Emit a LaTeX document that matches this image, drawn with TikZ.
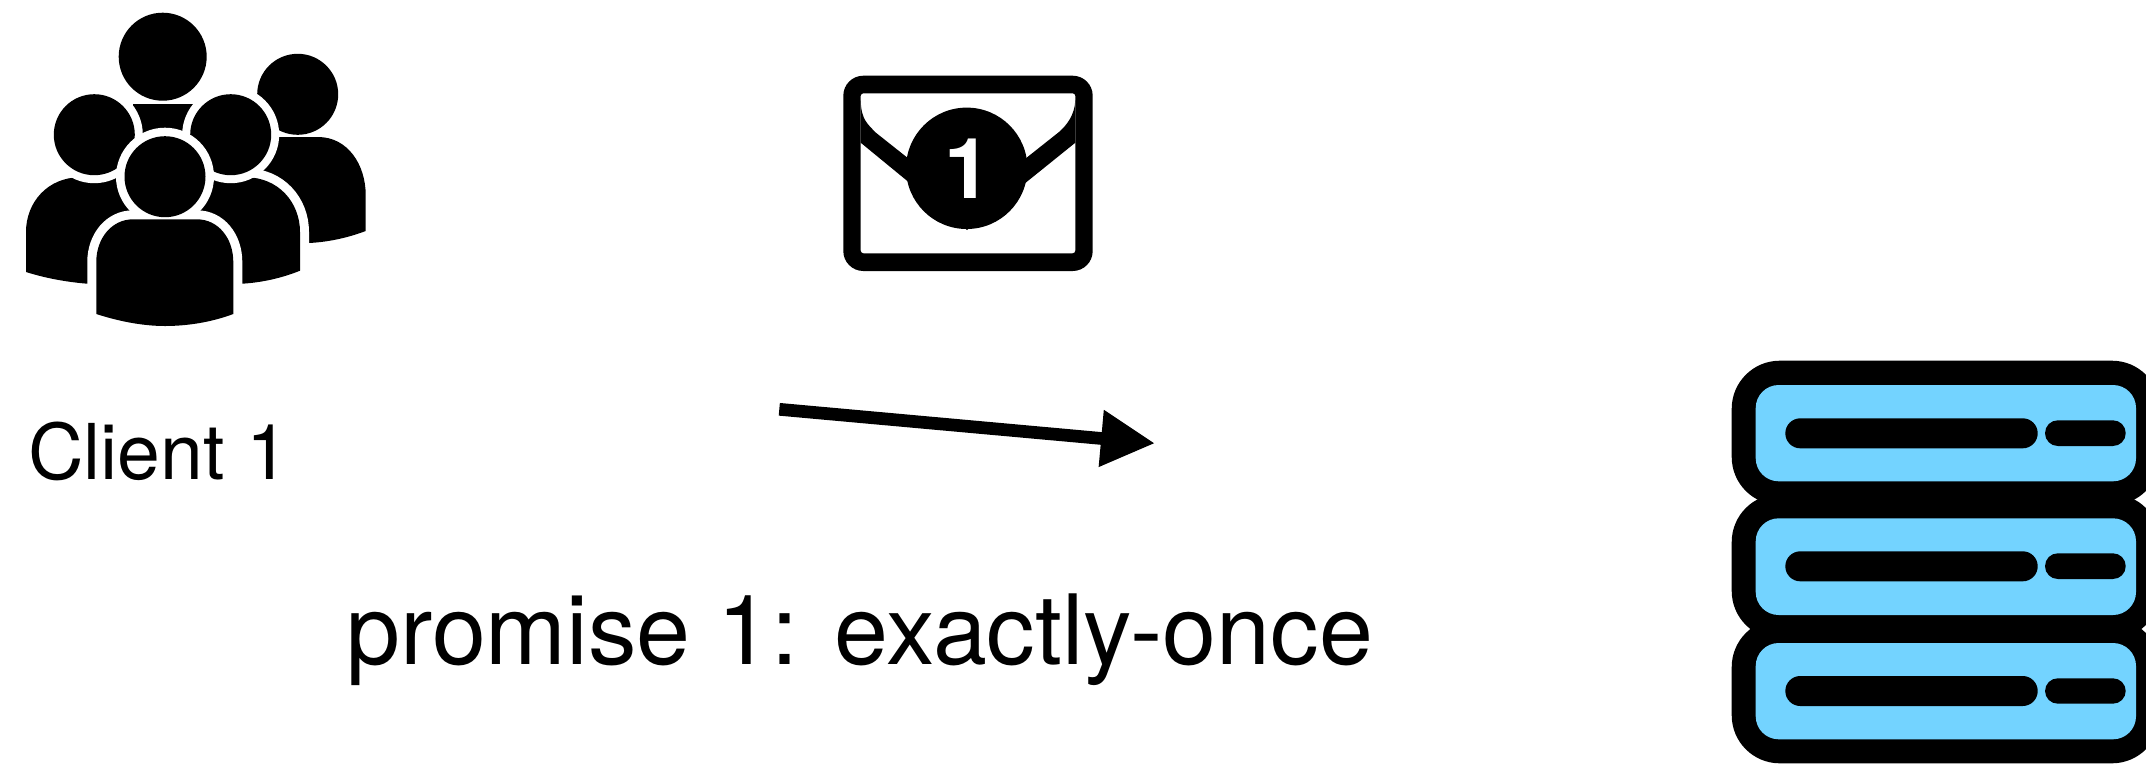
\documentclass[tikz,border=0pt]{standalone}
\usepackage{fontspec}
\setmainfont{TeX Gyre Heros}
\usetikzlibrary{arrows.meta}
\definecolor{serverblue}{RGB}{115,211,255}
\tikzset{
  x=1pt,y=-1pt,
  solid/.style={fill=black,draw=none},
  ringed/.style={fill=black,draw=white,line width=17pt},
  ring/.style={fill=white,draw=none},
  unitout/.style={fill=black,draw=none,rounded corners=48pt},
  unitin/.style={fill=serverblue,draw=none,rounded corners=23pt},
  barlong/.style={fill=black,draw=none,rounded corners=15pt},
  barshort/.style={fill=black,draw=none,rounded corners=12.8pt},
  arrowline/.style={line width=12.7pt,-{Triangle[length=54pt,width=53.6pt]}},
  label/.style={inner sep=0pt,anchor=base west}
}
\begin{document}
\begin{tikzpicture}
\clip (0,0) rectangle (2146,764);
% people
\path[solid] (250,137) -- (318,137) .. controls (348,137) and (365.7,165) .. (365.7,195) -- (365.7,231) .. controls (350,237) and (330,242) .. (309,243) -- (250,243) -- cycle;
\path[solid] (297.7,94.3) circle (40.5);
\path[solid] (133.3,104) -- (193.3,104) -- (193.3,150) -- (133.3,150) -- cycle;
\path[solid] (162.7,56.7) circle (44);
\path[solid] (150,177.3) -- (80,177.3) .. controls (48,177.3) and (26,202) .. (26,232) -- (26,272) .. controls (45,278) and (66,282) .. (87.3,283.7) -- (150,283.7) -- cycle;
\path[ring] (94.3,134.7) circle (48.5);
\path[solid] (94.3,134.7) circle (40.5);
\path[ringed,line width=18pt] (200,177.3) -- (246,177.3) .. controls (278,177.3) and (300,202) .. (300,232) -- (300,270.7) .. controls (282,278) and (262,282.5) .. (242.3,283.7) -- (200,283.7) -- cycle;
\path[solid] (200,177.3) -- (246,177.3) .. controls (278,177.3) and (300,202) .. (300,232) -- (300,270.7) .. controls (282,278) and (262,282.5) .. (242.3,283.7) -- (200,283.7) -- cycle;
\path[ring] (230.7,134.7) circle (48.5);
\path[solid] (230.7,134.7) circle (40.5);
\path[ringed,line width=18pt] (133,219.3) -- (197,219.3) .. controls (218,219.3) and (233.3,238) .. (233.3,262) -- (233.3,314) .. controls (212,322) and (188,326) .. (165,326) .. controls (142,326) and (118,321) .. (96.3,314) -- (96.3,262) .. controls (96.3,238) and (112,219.3) .. (133,219.3) -- cycle;
\path[ring] (165,176.7) circle (49);
\path[solid] (165,176.7) circle (40.5);
\path[solid] (133,219.3) -- (197,219.3) .. controls (218,219.3) and (233.3,238) .. (233.3,262) -- (233.3,314) .. controls (212,322) and (188,326) .. (165,326) .. controls (142,326) and (118,321) .. (96.3,314) -- (96.3,262) .. controls (96.3,238) and (112,219.3) .. (133,219.3) -- cycle;
% envelope
\path[fill=black,rounded corners=20pt] (843.3,75.7) rectangle (1092.7,271);
\path[fill=white,rounded corners=3pt] (860.7,93.3) rectangle (1075.3,253.3);
\path[solid] (860.7,100) .. controls (861,120) and (868,124) .. (875,132) -- (967,205) -- (1059,132) .. controls (1066,126) and (1075,115) .. (1075.3,100) -- (1075.3,142.7) -- (967,230) -- (860.7,142.7) -- cycle;
\node[circle,fill=black,draw=none,minimum size=121.4pt,inner sep=0pt] (badge) at (966.7,168.3) {};
\node[inner sep=0pt,text=white,font=\fontsize{84}{84}\selectfont\bfseries] (badgenum) at (968,169) {1};
% arrow
\coordinate (arrowstart) at (779.3,409.3);
\coordinate (arrowend) at (1155,443.3);
\draw[arrowline] (arrowstart) -- (arrowend);
% server
\path[unitout] (1731.7,360.7) rectangle (2160,505);
\path[unitout] (1731.7,494) rectangle (2160,639);
\path[unitout] (1731.7,619) rectangle (2160,763.3);
\path[unitin] (1755.7,385) rectangle (2136,481.3);
\path[unitin] (1755.7,518.3) rectangle (2136,615);
\path[unitin] (1755.7,643) rectangle (2136,739.3);
\path[barlong] (1785.3,418.3) rectangle (2037.7,448.3);
\path[barshort] (2045,420.3) rectangle (2125.7,446);
\path[barlong] (1785.3,551.3) rectangle (2037.7,581.3);
\path[barshort] (2045,553.3) rectangle (2125.7,579);
\path[barlong] (1785.3,676) rectangle (2037.7,706);
\path[barshort] (2045,678.3) rectangle (2125.7,703.7);
% text
\node[label,font=\fontsize{77}{77}\selectfont] (client) at (28,479) {Client 1};
\node[label,font=\fontsize{97}{97}\selectfont] (promise) at (346,664) {promise 1: exactly-once};
\end{tikzpicture}
\end{document}
